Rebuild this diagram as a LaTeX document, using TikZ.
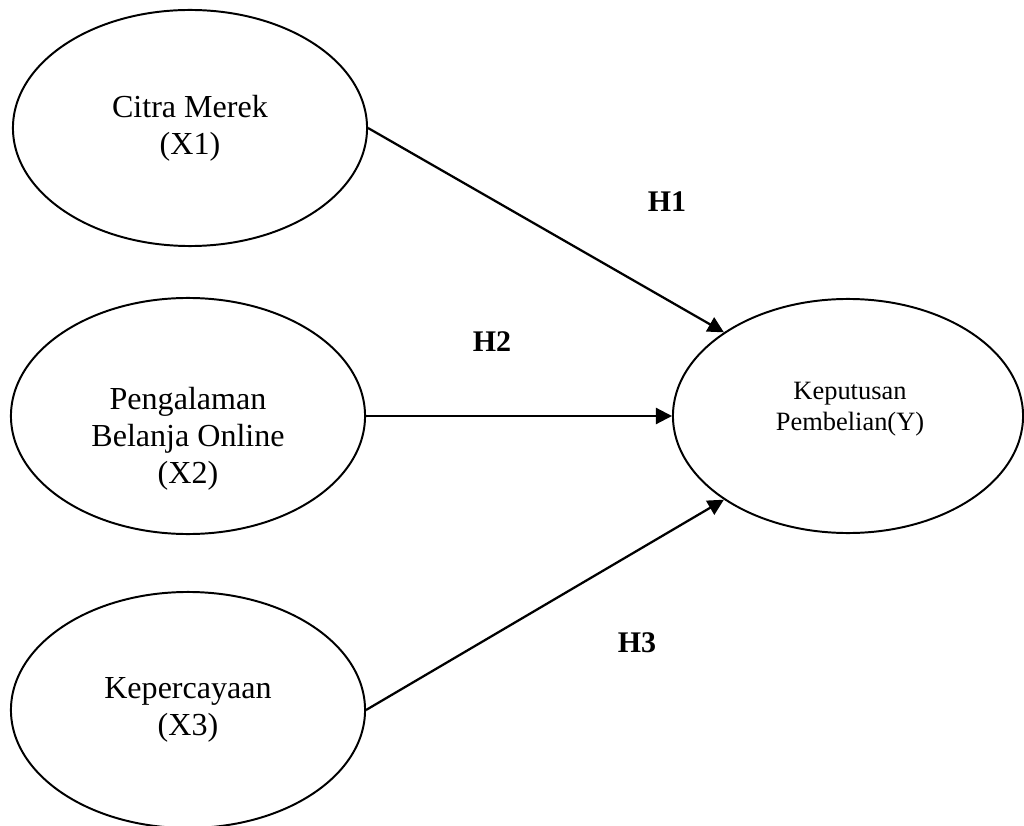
\documentclass[tikz,border=0pt]{standalone}
\usepackage{fontspec}
\setmainfont{Liberation Serif}
\usepackage{tikz}
\usetikzlibrary{shapes.geometric,arrows.meta}

\begin{document}
\begin{tikzpicture}[x=0.025cm, y=-0.025cm,
    var/.style={ellipse, draw, line width=1.4pt, inner sep=0pt,
      minimum width=8.85cm, minimum height=5.9cm, align=center,
      font=\fontsize{22.8}{26.3}\selectfont},
    path/.style={line width=1.6pt, -{Triangle[length=0.4cm, width=0.4cm]}},
    hyp/.style={font=\fontsize{21.3}{24}\selectfont\bfseries}]
    \useasboundingbox (0,0) rectangle (1024,826);

    \node[var] (X1) at (190,128) {Citra Merek\\(X1)};
    \node[var] (X2) at (188,416) {};
    \node[align=center, font=\fontsize{22.8}{26.3}\selectfont] (X2text)
      at (188,439) {Pengalaman\\Belanja Online\\(X2)};
    \node[var] (X3) at (188,710) {Kepercayaan\\(X3)};
    \node[var, minimum width=8.75cm, minimum height=5.85cm] (Y)
      at (848,416) {};
    \node[align=center, font=\fontsize{18.8}{21.8}\selectfont] (Ytext)
      at (850,409) {Keputusan\\Pembelian(Y)};

    \draw[path] (X1.east) -- (Y.146);
    \draw[path] (X2.east) -- (Y.west);
    \draw[path] (X3.east) -- (Y.214);

    \node[hyp] (H1) at (667,202) {H1};
    \node[hyp] (H2) at (492,342) {H2};
    \node[hyp] (H3) at (637,643) {H3};
\end{tikzpicture}
\end{document}
